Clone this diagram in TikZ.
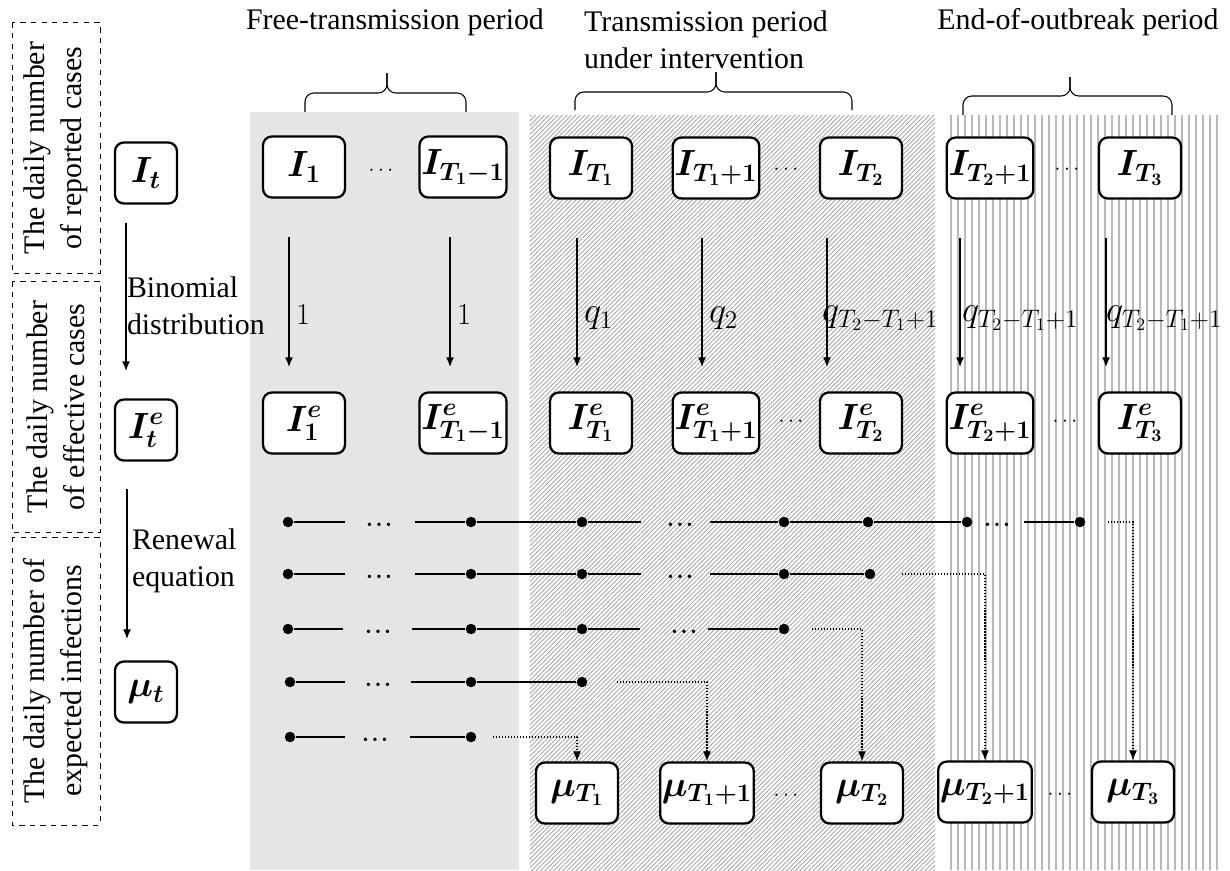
\documentclass[tikz,border=0pt]{standalone}
\usepackage{fontspec}
\setmainfont{Liberation Serif}
\usepackage{bm}
\usetikzlibrary{positioning,arrows.meta,patterns.meta}
\tikzset{>={Latex[length=0.2cm,width=0.16cm]}}
\newcommand{\rowdots}{\textbullet\hspace{2.6pt}\textbullet\hspace{2.6pt}\textbullet}
\begin{document}
\begin{tikzpicture}[x=0.02cm, y=-0.02cm, font=\fontsize{17}{21}\selectfont,
  box/.style={draw, fill=white, rounded corners=5pt, line width=1.3pt, minimum width=1.64cm, minimum height=1.22cm, inner sep=1pt, font=\fontsize{20}{24}\selectfont},
  sbox/.style={box, minimum width=1.24cm},
  side/.style={draw, dashed, rotate=90, align=center, line width=0.5pt, minimum width=5.02cm, minimum height=1.76cm},
  flow/.style={->, line width=1.3pt, shorten <=0.76cm, shorten >=0.48cm},
  prob/.style={font=\fontsize{20}{24}\selectfont},
  ell/.style={font=\fontsize{12}{14}\selectfont},
  rell/.style={font=\fontsize{8}{10}\selectfont, inner sep=0pt, yshift=-2.6pt},
  seg/.style={line width=1.5pt},
  pt/.style={circle, fill, inner sep=0pt, minimum size=0.21cm},
  lnk/.style={->, densely dotted, line width=0.7pt},
  brc/.style={line width=0.6pt, rounded corners=5pt}]
\useasboundingbox (0,0) rectangle (1230,870);
% periods
\fill[gray!20] (250,112) rectangle (519,870);
\fill[pattern={Lines[angle=45,distance=1.8pt,line width=0.5pt]}, pattern color=gray!70] (530,115) rectangle (935,870);
\foreach \x in {951,958,...,1218} \draw[gray!55, line width=0.8pt] (\x,115) -- (\x,870);
\node (ftp) at (395,22) {Free-transmission period};
\node[align=left, anchor=west] (tpi) at (578,40) {Transmission period\\under intervention};
\node (eop) at (1078,22) {End-of-outbreak period};
\draw[brc] (305,112) |- (387,93) -- (387,73);
\draw[brc] (387,73) -- (387,93) -| (466,112);
\draw[brc] (575,110) |- (716,92) -- (716,72);
\draw[brc] (716,72) -- (716,92) -| (852,110);
\draw[brc] (963,115) |- (1070,96) -- (1070,77);
\draw[brc] (1070,77) -- (1070,96) -| (1172,115);
% left column
\node[side] (rep) at (56,148) {The daily number\\of reported cases};
\node[side] (eff) at (56,407) {The daily number\\of effective cases};
\node[side, minimum width=5.76cm] (exp) at (56,681) {The daily number of\\expected infections};
\node[sbox] (It) at (146,173) {$\bm{I_t}$};
\node[sbox] (Ite) at (146,430) {$\bm{I_t^e}$};
\node[sbox] (mut) at (146,692) {$\bm{\mu_t}$};
\draw[flow, shorten <=0.36cm, shorten >=0.54cm] ([xshift=-0.4cm]It.south) -- ([xshift=-0.4cm]Ite.north) node[pos=0.52, right=-0.12cm, align=left] {Binomial\\distribution};
\draw[flow, shorten <=0.54cm, shorten >=0.42cm] ([xshift=-0.38cm]Ite.south) -- ([xshift=-0.38cm]mut.north) node[pos=0.5, right=-0.04cm, align=left] {Renewal\\equation};
% reported cases
\node[box] (I1) at (304,167) {$\bm{I_1}$};
\node[ell] (dI1) at (381,171) {$\cdots$};
\node[box] (IT1m) at (463,167) {$\bm{I_{T_1-1}}$};
\node[box] (IT1) at (591,168) {$\bm{I_{T_1}}$};
\node[box] (IT1p) at (716,168) {$\bm{I_{T_1+1}}$};
\node[ell] (dI2) at (786,170) {$\cdots$};
\node[box] (IT2) at (861,168) {$\bm{I_{T_2}}$};
\node[box] (IT2p) at (990,168) {$\bm{I_{T_2+1}}$};
\node[ell] (dI3) at (1067,170) {$\cdots$};
\node[box] (IT3) at (1140,168) {$\bm{I_{T_3}}$};
% effective cases
\node[box] (I1e) at (304,423) {$\bm{I^e_1}$};
\node[box] (IT1me) at (463,423) {$\bm{I^e_{T_1-1}}$};
\node[box] (IT1e) at (591,423) {$\bm{I^e_{T_1}}$};
\node[box] (IT1pe) at (716,423) {$\bm{I^e_{T_1+1}}$};
\node[ell] (dIe2) at (791,422) {$\cdots$};
\node[box] (IT2e) at (861,423) {$\bm{I^e_{T_2}}$};
\node[box] (IT2pe) at (990,423) {$\bm{I^e_{T_2+1}}$};
\node[ell] (dIe3) at (1065,422) {$\cdots$};
\node[box] (IT3e) at (1140,423) {$\bm{I^e_{T_3}}$};
\draw[flow] ([xshift=-0.3cm]I1.south) -- ([xshift=-0.3cm]I1e.north) node[pos=0.6, right] {$1$};
\draw[flow] ([xshift=-0.26cm]IT1m.south) -- ([xshift=-0.26cm]IT1me.north) node[pos=0.6, right] {$1$};
\draw[flow] ([xshift=-0.28cm]IT1.south) -- ([xshift=-0.28cm]IT1e.north) node[prob, pos=0.62, right] {$q_1$};
\draw[flow] ([xshift=-0.28cm]IT1p.south) -- ([xshift=-0.28cm]IT1pe.north) node[prob, pos=0.62, right] {$q_2$};
\draw[flow] ([xshift=-0.68cm]IT2.south) -- ([xshift=-0.68cm]IT2e.north) node[prob, pos=0.62, right=-0.24cm] {$q_{T_2-T_1+1}$};
\draw[flow] ([xshift=-0.6cm]IT2p.south) -- ([xshift=-0.6cm]IT2pe.north) node[prob, pos=0.62, right=-0.1cm] {$q_{T_2-T_1+1}$};
\draw[flow] ([xshift=-0.68cm]IT3.south) -- ([xshift=-0.68cm]IT3e.north) node[prob, pos=0.62, right=-0.14cm] {$q_{T_2-T_1+1}$};
% expected infections
\node[box] (muT1) at (577,793) {$\bm{\mu_{T_1}}$};
\node[box] (muT1p) at (707,793) {$\bm{\mu_{T_1+1}}$};
\node[ell] (dmu2) at (786,796) {$\cdots$};
\node[box] (muT2) at (862,793) {$\bm{\mu_{T_2}}$};
\node[box] (muT2p) at (985,792) {$\bm{\mu_{T_2+1}}$};
\node[ell] (dmu3) at (1060,795) {$\cdots$};
\node[box] (muT3) at (1133,792) {$\bm{\mu_{T_3}}$};
% renewal rows
\node[pt] (a1) at (288,522) {};
\coordinate (a1r) at (345,522);
\node[rell] (a1d) at (379,522) {\rowdots};
\coordinate (a2l) at (415,522);
\node[pt] (a2) at (471,522) {};
\node[pt] (a3) at (582,522) {};
\coordinate (a3r) at (641,522);
\node[rell] (a3d) at (680,522) {\rowdots};
\coordinate (a4l) at (710,522);
\node[pt] (a4) at (784,522) {};
\node[pt] (a5) at (868,522) {};
\node[pt] (a6) at (967,522) {};
\node[rell] (a6d) at (997,522) {\rowdots};
\coordinate (a7l) at (1024,522);
\node[pt] (a7) at (1080,522) {};
\coordinate (a8) at (1108,522);
\draw[seg] (a1) -- (a1r);
\draw[seg] (a2l) -- (a2) -- (a3) -- (a3r);
\draw[seg] (a4l) -- (a4) -- (a5) -- (a6);
\draw[seg] (a7l) -- (a7);
\draw[lnk] (a8) -| (muT3);
\node[pt] (b1) at (288,574) {};
\coordinate (b1r) at (345,574);
\node[rell] (b1d) at (379,574) {\rowdots};
\coordinate (b2l) at (415,574);
\node[pt] (b2) at (471,574) {};
\node[pt] (b3) at (582,574) {};
\coordinate (b3r) at (641,574);
\node[rell] (b3d) at (680,574) {\rowdots};
\coordinate (b4l) at (710,574);
\node[pt] (b4) at (784,574) {};
\node[pt] (b5) at (870,574) {};
\coordinate (b6) at (902,574);
\draw[seg] (b1) -- (b1r);
\draw[seg] (b2l) -- (b2) -- (b3) -- (b3r);
\draw[seg] (b4l) -- (b4) -- (b5);
\draw[lnk] (b6) -| (muT2p);
\node[pt] (c1) at (288,629) {};
\coordinate (c1r) at (343,629);
\node[rell] (c1d) at (378,629) {\rowdots};
\coordinate (c2l) at (412,629);
\node[pt] (c2) at (471,629) {};
\node[pt] (c3) at (582,629) {};
\coordinate (c3r) at (640,629);
\node[rell] (c3d) at (684,629) {\rowdots};
\coordinate (c4l) at (708,629);
\node[pt] (c4) at (784,629) {};
\coordinate (c5) at (812,629);
\draw[seg] (c1) -- (c1r);
\draw[seg] (c2l) -- (c2) -- (c3) -- (c3r);
\draw[seg] (c4l) -- (c4);
\draw[lnk] (c5) -| (muT2);
\node[pt] (d1) at (290,682) {};
\coordinate (d1r) at (345,682);
\node[rell] (d1d) at (378,682) {\rowdots};
\coordinate (d2l) at (411,682);
\node[pt] (d2) at (471,682) {};
\node[pt] (d3) at (582,682) {};
\coordinate (d4) at (617,682);
\draw[seg] (d1) -- (d1r);
\draw[seg] (d2l) -- (d2) -- (d3);
\draw[lnk] (d4) -| (muT1p);
\node[pt] (e1) at (290,737) {};
\coordinate (e1r) at (345,737);
\node[rell] (e1d) at (375,737) {\rowdots};
\coordinate (e2l) at (410,737);
\node[pt] (e2) at (471,737) {};
\coordinate (e3) at (493,737);
\draw[seg] (e1) -- (e1r);
\draw[seg] (e2l) -- (e2);
\draw[lnk] (e3) -| (muT1);
\end{tikzpicture}
\end{document}
